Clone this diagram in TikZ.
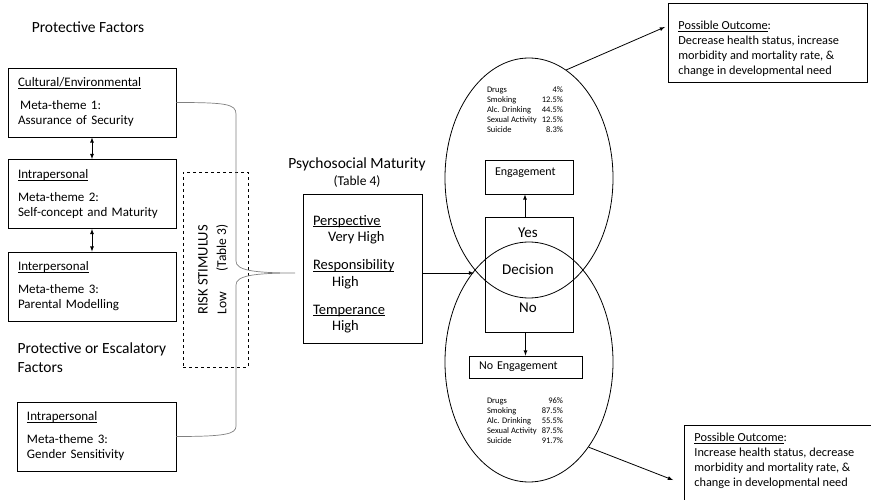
\documentclass[tikz,border=0pt]{standalone}
\usepackage{fontspec}
\setmainfont{Carlito}
\usetikzlibrary{shapes.geometric}

\newcommand{\ulabel}[1]{\underline{\smash{#1}}\vphantom{#1}}

\tikzset{
  factor/.style={draw, minimum width=168pt, minimum height=69pt, inner xsep=10pt,
    text width=148pt, align=left, font=\fontsize{13}{15}\selectfont},
  heading/.style={font=\fontsize{15.5}{19}\selectfont},
  riskbox/.style={draw, dashed, minimum width=65pt, minimum height=195pt},
  sideways/.style={rotate=90, font=\fontsize{14.5}{16}\selectfont},
  matbox/.style={draw, minimum width=119pt, minimum height=149pt},
  mattext/.style={inner sep=0pt, align=left, font=\fontsize{14.5}{16.5}\selectfont},
  joinline/.style={draw=gray, line width=0.7pt},
  lens/.style={draw, ellipse, minimum width=168pt, minimum height=240pt},
  bigword/.style={font=\fontsize{15}{17}\selectfont},
  smallbox/.style={draw, inner xsep=10pt, align=left, font=\fontsize{12}{14}\selectfont},
  stats/.style={font=\fontsize{8.5}{10}\selectfont},
  outtext/.style={inner sep=0pt, align=left, font=\fontsize{12.3}{15}\selectfont},
}

\begin{document}
\begin{tikzpicture}[x=1pt, y=-1pt, >=latex, line width=0.8pt]
        % \draw[help lines] (0,0) grid (871,500);
        \useasboundingbox (0,0) rectangle (871,500);

        \node[heading] at (88,27) (protect) {Protective Factors};
        \node[factor] at (92,102.5) (cult) {\ulabel{Cultural/Environmental}\\[8pt]\,Meta-theme 1:\\Assurance of Security};
        \node[factor] at (92,194) (intra) {\ulabel{Intrapersonal}\\[8pt]Meta-theme 2:\\Self-concept and Maturity};
        \node[factor] at (92,286.5) (inter) {\ulabel{Interpersonal}\\[8pt]Meta-theme 3:\\Parental Modelling};
        \node[heading, anchor=west, align=left] at (14,357.5) (escal) {Protective or Escalatory\\Factors};
        \node[factor, minimum width=159pt, text width=139pt] at (96.5,436.5) (gend) {\ulabel{Intrapersonal}\\[8pt]Meta-theme 3:\\Gender Sensitivity};

        \node[riskbox] at (215.5,269.5) (risk) {};
        \node[sideways] at (203,270) (riskname) {RISK STIMULUS};
        \node[sideways, font=\fontsize{13.5}{15}\selectfont] at (222,248) (tab3) {(Table 3)};
        \node[sideways, font=\fontsize{13.5}{15}\selectfont] at (222,303) (low) {Low};

        \coordinate (tip) at (295,273);

        \node[font=\fontsize{15.5}{18}\selectfont] at (357,164) (psy) {Psychosocial Maturity};
        \node[font=\fontsize{13.5}{15}\selectfont] at (357,181) (tab4) {(Table 4)};
        \node[matbox] at (362.5,268.5) (matur) {};
        \node[mattext, anchor=north west] at ([shift={(10,21)}]matur.north west) (matlist)
          {\ulabel{Perspective}\\\hspace*{15pt}Very High\\[11.5pt]\ulabel{Responsibility}\\\hspace*{19pt}High\\[11.5pt]\ulabel{Temperance}\\\hspace*{19pt}High};

        \node[lens] at (529,178) (yesell) {};
        \node[lens] at (529,362) (noell) {};
        \coordinate (meet) at (474,273);

        \node[draw, minimum width=88pt, minimum height=115pt] at (529,274.5) (dec) {};
        \node[bigword] at (528,233) (yes) {Yes};
        \node[bigword] at (528,269) (decw) {Decision};
        \node[bigword] at (528,308) (no) {No};

        \node[smallbox, text width=68pt, inner ysep=4pt, text height=12pt, text depth=14pt] at (529,177) (eng) {Engagement};
        \node[smallbox, text width=93pt, minimum height=22pt] at (525.5,367) (noeng) {No Engagement};

        \node[stats] at (525,111) (yesstat) {\begin{tabular*}{76pt}{@{}l@{\extracolsep{\fill}}r@{}}
            Drugs & 4\% \\ Smoking & 12.5\% \\ Alc. Drinking & 44.5\% \\ Sexual Activity & 12.5\% \\ Suicide & 8.3\%
          \end{tabular*}};
        \node[stats] at (525,421) (nostat) {\begin{tabular*}{76pt}{@{}l@{\extracolsep{\fill}}r@{}}
            Drugs & 96\% \\ Smoking & 87.5\% \\ Alc. Drinking & 55.5\% \\ Sexual Activity & 87.5\% \\ Suicide & 91.7\%
          \end{tabular*}};

        \node[draw, anchor=north west, minimum width=199pt, minimum height=79pt] at (668,3) (upout) {};
        \node[outtext, anchor=north west] at ([shift={(10,18)}]upout.north west) (uptext)
          {\ulabel{Possible Outcome}:\\Decrease health status, increase\\morbidity and mortality rate, \&\\change in developmental need};
        \node[draw, anchor=north west, minimum width=200pt, minimum height=90pt] at (684,425) (lowout) {};
        \node[outtext, anchor=north west] at ([shift={(10,8)}]lowout.north west) (lowtext)
          {\ulabel{Possible Outcome}:\\Increase health status, decrease\\morbidity and mortality rate, \&\\change in developmental need};

        \path[<->]
        (cult) edge (intra)
        (intra) edge (inter);

        \draw[joinline] (cult.east) .. controls (226,102.5) and (236,104) .. (236,114)
          -- (236,261) .. controls (236,270) and (252,273) .. (tip)
          .. controls (252,273) and (236,276) .. (236,285)
          -- (236,426) .. controls (236,434) and (226,436.5) .. (gend.east);

        \draw[->] (matur.east |- meet) -- (meet);
        \draw[->] ([xshift=-4pt]dec.north) -- ([xshift=-4pt]eng.south);
        \draw[->] (dec.south -| noeng) -- (noeng.north);
        \draw[->] (yesell.71) -- ([shift={(-3,24)}]upout.north west);
        \draw[->] (noell.-55) -- ([shift={(-11,55)}]lowout.north west);
    \end{tikzpicture}
\end{document}
